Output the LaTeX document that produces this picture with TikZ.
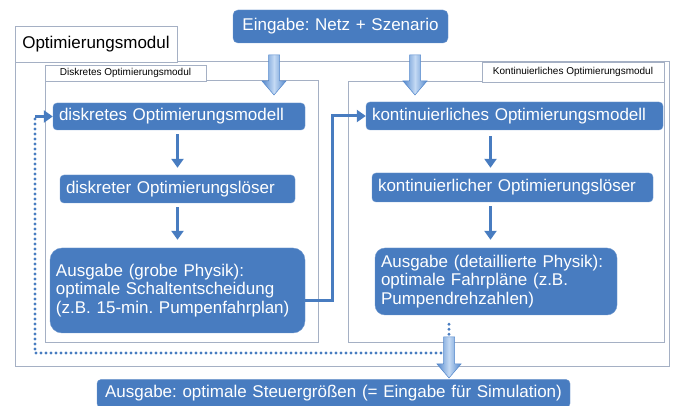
\documentclass[tikz,border=0pt]{standalone}
\usepackage{fontspec}
\setmainfont{Liberation Sans}
\usetikzlibrary{arrows.meta,calc}
\definecolor{boxblue}{RGB}{72,124,192}
\definecolor{framegray}{RGB}{165,176,196}
\definecolor{fadark}{RGB}{84,136,204}
\definecolor{falight}{RGB}{196,218,244}
\frenchspacing

\begin{document}
\begin{tikzpicture}[x=1pt,y=-1pt,
    blk/.style={fill=boxblue,draw=boxblue!80!white,text=white,rounded corners=4pt,inner xsep=6pt,inner ysep=0pt,align=left,font=\fontsize{17}{18.5}\selectfont},
    frm/.style={draw=framegray,line width=1pt,inner sep=0pt},
    lbl/.style={draw=framegray,fill=white,line width=0.8pt,inner sep=0pt},
    link/.style={draw=boxblue,line width=3pt,-{Triangle[width=12pt,length=9pt]}},
    dots/.style={draw=boxblue,line width=3.2pt,line cap=round,dash pattern=on 0pt off 5pt},
    fat/.style={left color=fadark,right color=fadark,middle color=falight,draw=fadark,line width=0.5pt,
        to path={let \p1=(\tikztostart),\p2=(\tikztotarget) in
            (\x1-5.5pt,\y1) -- (\x1+5.5pt,\y1) -- (\x1+5.5pt,\y2+14pt) -- (\x1+12pt,\y2+14pt)
            -- (\x1,\y2) -- (\x1-12pt,\y2+14pt) -- (\x1-5.5pt,\y2+14pt) -- cycle}}]
    \useasboundingbox (0,0) rectangle (673,406);

    % frames
    \node[frm,minimum width=654pt,minimum height=305pt] (opt) at (342,214.5) {};
    \node[lbl,minimum width=162pt,minimum height=36pt,font=\fontsize{17}{20}\selectfont] (optlbl) at (96,44) {Optimierungsmodul};
    \node[frm,minimum width=273pt,minimum height=262pt] (dfrm) at (181.5,212) {};
    \node[lbl,minimum width=161pt,minimum height=16pt,font=\fontsize{10}{12}\selectfont] (dlbl) at (125.5,73) {Diskretes Optimierungsmodul};
    \node[frm,minimum width=316pt,minimum height=261pt] (kfrm) at (506,212.5) {};
    \node[lbl,minimum width=182pt,minimum height=20pt,font=\fontsize{10}{12}\selectfont] (klbl) at (573,72) {Kontinuierliches Optimierungsmodul};

    % boxes
    \node[blk,align=center,rounded corners=5pt,text width=203pt,minimum height=33pt] (in) at (340.5,26.5) {Eingabe: Netz + Szenario};
    \node[blk,text width=240pt,minimum height=27pt] (dmodel) at (179,116.5) {diskretes Optimierungsmodell};
    \node[blk,text width=285pt,minimum height=28pt] (kmodel) at (514.5,116) {kontinuierliches Optimierungsmodell};
    \node[blk,text width=223pt,minimum height=28pt] (dsolver) at (177.5,189) {diskreter Optimierungslöser};
    \node[blk,text width=269pt,minimum height=29pt] (ksolver) at (512.5,187.5) {kontinuierlicher Optimierungslöser};
    \node[blk,rounded corners=12pt,text width=243pt,minimum height=85pt] (dout) at (177.5,290.5) {Ausgabe (grobe Physik):\\optimale Schaltentscheidung\\(z.B. 15-min. Pumpenfahrplan)};
    \node[blk,rounded corners=10pt,text width=230pt,minimum height=67pt] (kout) at (496,281.5) {Ausgabe (detaillierte Physik):\\optimale Fahrpläne (z.B.\\Pumpendrehzahlen)};
    \node[blk,align=center,text width=461pt,minimum height=28pt] (final) at (333.5,393.5) {Ausgabe: optimale Steuergrößen (= Eingabe für Simulation)};

    \coordinate (ia) at (274,55);
    \coordinate (ia2) at (274,95);
    \coordinate (ib) at (415,55);
    \coordinate (ib2) at (415,95);
    \coordinate (jn) at (449,337);
    \coordinate (jt) at (449,378);
    \coordinate (jd) at (441,353);
    \coordinate (fb) at (35,353);

    % connectors
    \draw[link,shorten <=4pt,shorten >=7pt] (dmodel.south -| dsolver.north) -- (dsolver.north);
    \draw[link,shorten <=4pt,shorten >=8pt] (dsolver.south) -- (dsolver.south |- dout.north);
    \draw[link,shorten <=6pt,shorten >=5pt] ([xshift=-22pt]ksolver.north |- kmodel.south) -- ([xshift=-22pt]ksolver.north);
    \draw[link,shorten <=4pt,shorten >=8pt] ([xshift=-22pt]ksolver.south) -- ([xshift=-22pt]ksolver.south |- kout.north);
    \draw[link] ([yshift=-10pt]dout.east) -- ++(27,0) |- (kmodel.west);

    \draw[dots] (jd) -- (fb) -- (fb |- dmodel.west);
    \draw[link,line width=2.5pt] (fb |- dmodel.west) -- (dmodel.west);
    \draw[dots,shorten <=9pt] (jn |- kout.south) -- (jn);

    \path[fat] (ia) to (ia2);
    \path[fat] (ib) to (ib2);
    \path[fat] (jn) to (jt);
\end{tikzpicture}
\end{document}
